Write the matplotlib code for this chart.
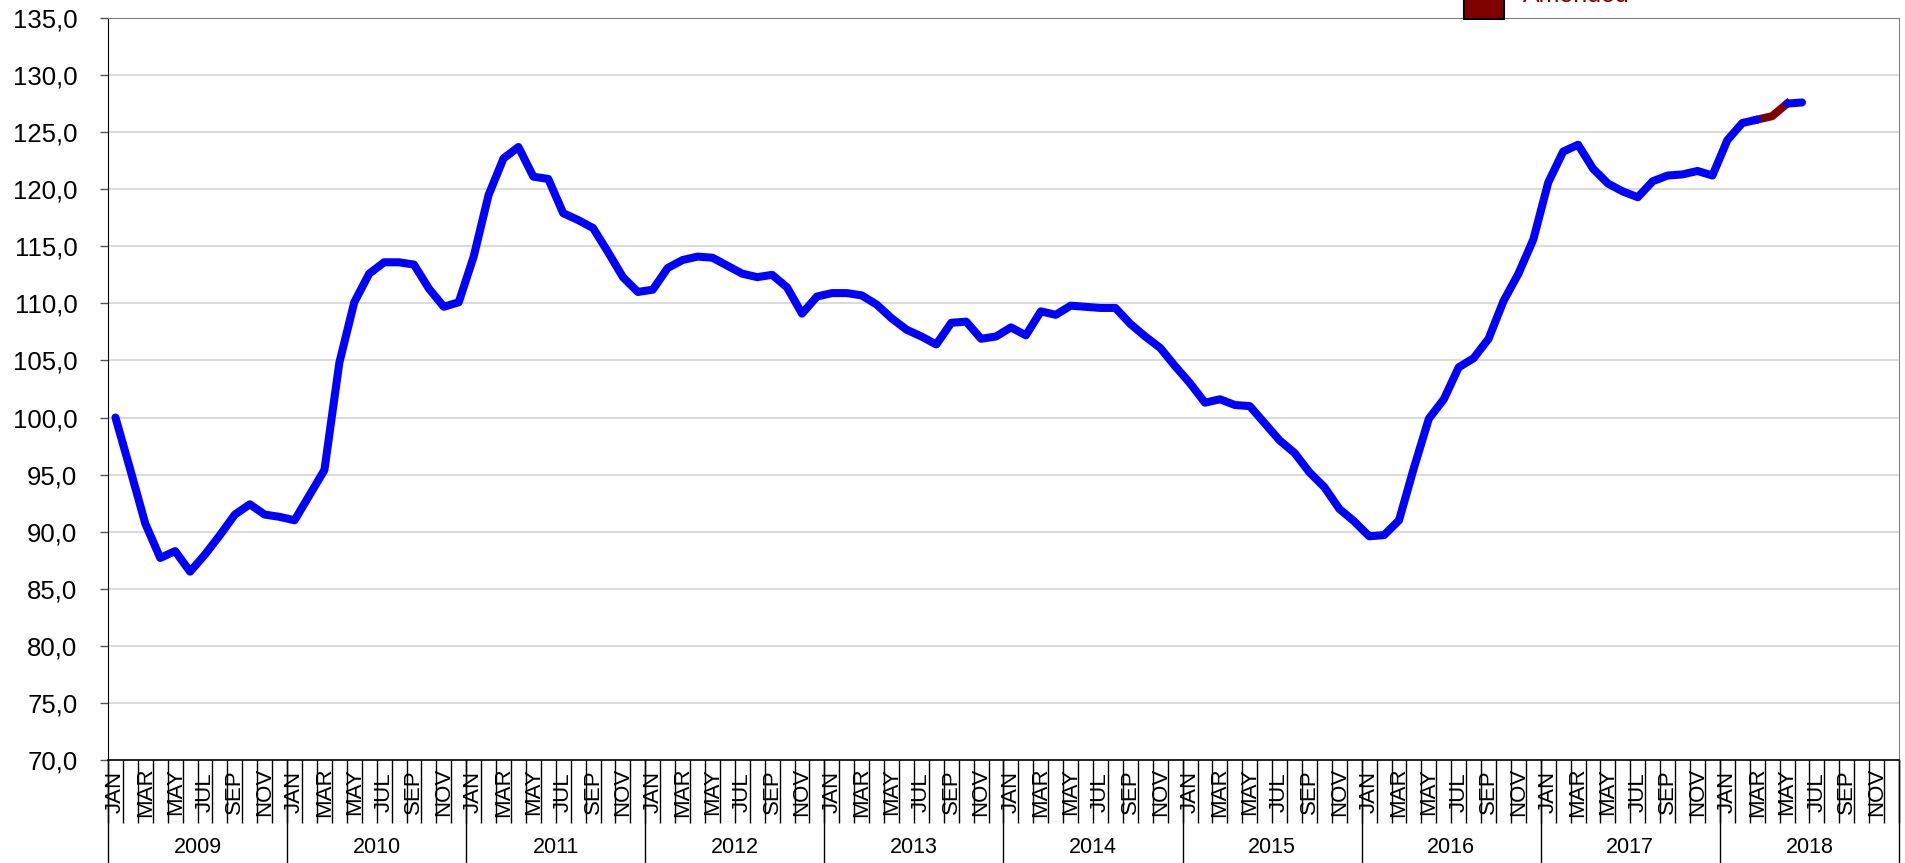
import numpy as np
import matplotlib
matplotlib.use("Agg")
import matplotlib.pyplot as plt
import matplotlib.transforms as mtransforms
from matplotlib.patches import Rectangle
from matplotlib.lines import Line2D

plt.rcParams['font.family'] = ['Liberation Sans', 'DejaVu Sans']

# data (monthly index, Jan 2009 .. Jun 2018)
years = [2009, 2010, 2011, 2012, 2013, 2014, 2015, 2016, 2017, 2018]
month_names = ['JAN', 'FEB', 'MAR', 'APR', 'MAY', 'JUN',
               'JUL', 'AUG', 'SEP', 'OCT', 'NOV', 'DEC']
values_2009 = [100.0, 95.4, 90.7, 87.7, 88.3, 86.5, 88.0, 89.7, 91.5, 92.4, 91.5, 91.3]
values_2010 = [91.0, 93.2, 95.4, 104.8, 110.1, 112.6, 113.6, 113.6, 113.4, 111.3, 109.7, 110.1]
values_2011 = [114.1, 119.5, 122.7, 123.7, 121.1, 120.9, 117.9, 117.3, 116.6, 114.5, 112.3, 111.0]
values_2012 = [111.2, 113.1, 113.8, 114.1, 114.0, 113.3, 112.6, 112.3, 112.5, 111.4, 109.1, 110.6]
values_2013 = [110.9, 110.9, 110.7, 109.9, 108.7, 107.7, 107.1, 106.4, 108.3, 108.4, 106.9, 107.1]
values_2014 = [107.9, 107.2, 109.3, 109.0, 109.8, 109.7, 109.6, 109.6, 108.2, 107.1, 106.1, 104.5]
values_2015 = [103.0, 101.3, 101.6, 101.1, 101.0, 99.5, 98.0, 96.9, 95.2, 93.9, 92.0, 90.9]
values_2016 = [89.6, 89.7, 91.0, 95.6, 99.9, 101.6, 104.4, 105.2, 106.9, 110.2, 112.6, 115.6]
values_2017 = [120.6, 123.3, 123.9, 121.8, 120.5, 119.8, 119.3, 120.7, 121.2, 121.3, 121.6, 121.2]
values_2018 = [124.3, 125.8, 126.1, 126.4, 127.5, 127.6]
amended_months = [110, 111, 112]   # MAR..MAY 2018
y_ticks = list(range(70, 136, 5))

values = (values_2009 + values_2010 + values_2011 + values_2012 + values_2013 +
          values_2014 + values_2015 + values_2016 + values_2017 + values_2018)
n_months = len(years) * 12
x = np.arange(len(values))

main = np.array(values, dtype=float)
main[amended_months[1:-1]] = np.nan
amended = [values[k] for k in amended_months]

fig = plt.figure(figsize=(19.05, 8.63), dpi=100)
ax = fig.add_axes([108 / 1905, 103 / 863, 1791 / 1905, 742 / 863])

ax.plot(amended_months, amended, color='#800000', linewidth=5.8, zorder=3)
ax.plot(x, main, color='#0000FF', linewidth=5.8, solid_capstyle='round', zorder=4)

ax.set_xlim(-0.5, n_months - 0.5)
ax.set_ylim(70, 135)

# y axis
ax.set_yticks(y_ticks)
ax.set_yticklabels([f"{v:.1f}".replace('.', ',') for v in y_ticks], fontsize=18.5)
ax.tick_params(axis='y', direction='out', length=6, width=1, color='#555555', pad=16)
ax.grid(axis='y', color='#d4d4d4', linewidth=1.2, zorder=0)
ax.set_axisbelow(True)

# x axis: boundary ticks only, month labels drawn as text
ax.set_xticks([])
ax.set_xticks(np.arange(n_months + 1) - 0.5, minor=True)
ax.tick_params(axis='x', which='minor', direction='out', length=45, width=1, color='black')

for side in ['top', 'right']:
    ax.spines[side].set_color('#808080')
ax.spines['left'].set_color('black')
ax.spines['bottom'].set_color('black')
ax.spines['bottom'].set_linewidth(1.2)

trans = mtransforms.blended_transform_factory(ax.transData, fig.transFigure)
for k in range(0, n_months, 2):
    ax.text(k, (863 - 792) / 863, month_names[k % 12], transform=trans, rotation=90,
            ha='center', va='center', fontsize=16)

# year separators and labels
ax_bottom = 103 / 863
for j, yr in enumerate(years):
    xb = j * 12 - 0.5
    ax.add_line(Line2D([xb, xb], [0, ax_bottom], transform=trans, color='black',
                       linewidth=1, clip_on=False))
    ax.text(j * 12 + 5.5, 16 / 863, str(yr), transform=trans, ha='center', va='center',
            fontsize=15.5)
ax.add_line(Line2D([n_months - 0.5] * 2, [0, ax_bottom], transform=trans, color='black',
                   linewidth=1, clip_on=False))

# legend entry (partly outside the figure, as in the source)
fig.add_artist(Rectangle((1464 / 1905, 844 / 863), 40 / 1905, 40 / 863,
                         transform=fig.transFigure, facecolor='#800000',
                         edgecolor='black', linewidth=1.5))
fig.text(1523 / 1905, 856 / 863, 'Amended', color='#800000', fontsize=18,
         ha='left', va='bottom')

fig.savefig('out.png', dpi=100)
